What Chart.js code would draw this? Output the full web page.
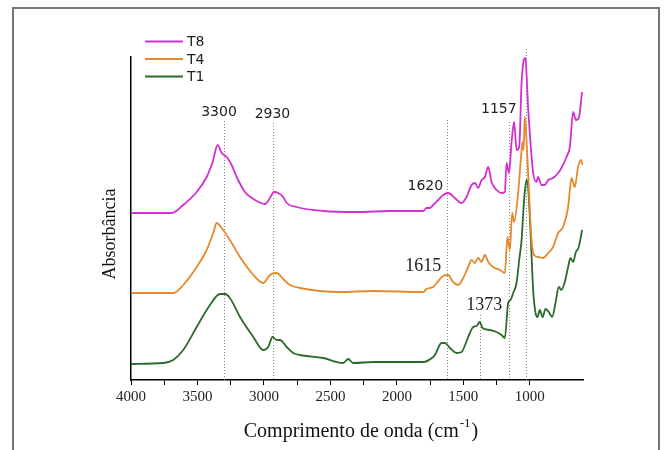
<!DOCTYPE html>
<html lang="pt">
<head>
    <meta charset="UTF-8">
    <title>FTIR T1 T4 T8</title>
    <script src="https://cdn.jsdelivr.net/npm/chart.js"></script>
    <style>
        body { margin: 0; background: #fff; }
        canvas { display: block; }
    </style>
</head>
<body>
    <canvas id="ftir" width="664" height="450"></canvas>

    <script>
        // Espectros FTIR (numero de onda em cm-1, absorbancia em unidades arbitrarias)
        const t8Wave = [4000, 3757, 3694, 3607, 3506, 3431, 3386, 3348, 3318, 3280, 3243, 3205, 3143, 3068, 2992, 2955, 2925, 2892, 2855, 2829, 2754, 2554, 2303, 2053, 1802, 1777, 1752, 1727, 1689, 1652, 1614, 1564, 1513, 1476, 1438, 1413, 1389, 1363, 1338, 1313, 1288, 1250, 1213, 1188, 1175, 1156, 1138, 1118, 1100, 1080, 1062, 1045, 1032, 1025, 1013, 1000, 975, 950, 938, 912, 887, 862, 825, 787, 762, 724, 699, 674, 654, 632, 607];
        const t8Abs = [1.67, 1.67, 1.67, 1.75, 1.88, 2.03, 2.18, 2.35, 2.27, 2.23, 2.15, 2.03, 1.88, 1.80, 1.76, 1.82, 1.88, 1.87, 1.83, 1.77, 1.73, 1.69, 1.68, 1.69, 1.69, 1.72, 1.72, 1.75, 1.80, 1.85, 1.87, 1.82, 1.77, 1.83, 1.95, 1.97, 1.92, 2.00, 2.03, 2.13, 1.98, 1.90, 1.87, 1.88, 2.17, 2.07, 2.37, 2.58, 2.30, 2.33, 2.97, 3.20, 3.22, 3.07, 2.73, 2.47, 2.07, 1.98, 2.03, 1.95, 1.95, 2.00, 2.02, 2.07, 2.12, 2.23, 2.33, 2.68, 2.60, 2.62, 2.88];

        const t4Wave = [4000, 3757, 3682, 3607, 3506, 3431, 3381, 3356, 3318, 3256, 3180, 3092, 3005, 2955, 2904, 2855, 2804, 2729, 2429, 2178, 1802, 1777, 1727, 1701, 1652, 1614, 1577, 1539, 1501, 1464, 1438, 1413, 1389, 1363, 1338, 1313, 1276, 1225, 1188, 1168, 1150, 1133, 1118, 1088, 1062, 1055, 1047, 1038, 1025, 1007, 987, 968, 938, 900, 862, 825, 787, 750, 712, 686, 662, 637, 616, 604];
        const t4Abs = [0.87, 0.87, 0.87, 0.95, 1.13, 1.30, 1.47, 1.57, 1.52, 1.40, 1.23, 1.07, 0.97, 1.05, 1.07, 1.01, 0.95, 0.92, 0.88, 0.89, 0.88, 0.91, 0.93, 0.97, 1.04, 1.05, 0.98, 0.95, 1.02, 1.13, 1.20, 1.17, 1.22, 1.18, 1.25, 1.18, 1.13, 1.10, 1.07, 1.43, 1.30, 1.67, 1.58, 1.87, 2.30, 2.38, 2.30, 2.63, 2.40, 1.90, 1.40, 1.25, 1.23, 1.22, 1.27, 1.33, 1.47, 1.53, 1.73, 2.02, 1.93, 2.13, 2.20, 2.15];

        const t1Wave = [4000, 3757, 3682, 3607, 3506, 3406, 3331, 3293, 3256, 3180, 3080, 3005, 2968, 2935, 2904, 2880, 2829, 2780, 2729, 2554, 2404, 2366, 2329, 2178, 1927, 1802, 1727, 1714, 1664, 1639, 1601, 1551, 1513, 1481, 1451, 1426, 1401, 1376, 1356, 1301, 1250, 1213, 1188, 1163, 1145, 1125, 1100, 1080, 1062, 1043, 1025, 1013, 992, 975, 957, 942, 925, 904, 882, 857, 832, 807, 782, 762, 737, 712, 694, 674, 656, 632, 607];
        const t1Abs = [0.16, 0.17, 0.20, 0.30, 0.53, 0.75, 0.86, 0.86, 0.82, 0.63, 0.43, 0.30, 0.33, 0.43, 0.40, 0.40, 0.33, 0.27, 0.25, 0.22, 0.17, 0.21, 0.17, 0.18, 0.18, 0.18, 0.23, 0.25, 0.37, 0.37, 0.32, 0.27, 0.28, 0.37, 0.47, 0.53, 0.54, 0.58, 0.52, 0.50, 0.48, 0.45, 0.42, 0.77, 0.80, 0.87, 0.97, 1.20, 1.40, 1.80, 2.00, 1.93, 1.40, 0.90, 0.67, 0.63, 0.70, 0.63, 0.71, 0.68, 0.63, 0.77, 0.93, 0.90, 0.98, 1.13, 1.22, 1.18, 1.27, 1.33, 1.50];

        const seriesNames = ["T8", "T4", "T1"];
        const xTickLabels = [4000, 3500, 3000, 2500, 2000, 1500, 1000];

        // bandas marcadas: numero de onda da linha pontilhada e ate onde ela sobe
        const bandWave = [3300, 2930, 1620, 1373, 1157, 1030];
        const bandTop = [2.59, 2.57, 2.60, 0.65, 2.58, 3.31];
        const bandText = ["3300", "2930", "1620", "1615", "1373", "1157"];

        const colors = ["#d22ed2", "#e6892c", "#2b6a2b"];

        function toPoints(wave, abs) {
            return wave.map((w, i) => ({ x: w, y: abs[i] }));
        }

        // onde cada rotulo de banda fica (numero de onda, absorbancia) e a fonte
        const bandLabels = [
            { text: bandText[0], x: 3338, y: 2.68, font: "14px 'DejaVu Sans'" },
            { text: bandText[1], x: 2936, y: 2.66, font: "14px 'DejaVu Sans'" },
            { text: bandText[2], x: 1786, y: 1.94, font: "14px 'DejaVu Sans'" },
            { text: bandText[3], x: 1801, y: 1.14, font: "18px 'Liberation Serif'" },
            { text: bandText[4], x: 1342, y: 0.75, font: "18px 'Liberation Serif'" },
            { text: bandText[5], x: 1233, y: 2.71, font: "14px 'DejaVu Sans'" }
        ];

        const decor = {
            id: "decor",
            beforeDatasetsDraw(chart) {
                const { ctx, scales: { x, y } } = chart;
                ctx.save();
                ctx.strokeStyle = "#8c8c8c";
                ctx.lineWidth = 1;
                ctx.setLineDash([1, 2]);
                bandWave.forEach((w, i) => {
                    const px = Math.round(x.getPixelForValue(w)) + 0.5;
                    ctx.beginPath();
                    ctx.moveTo(px, y.getPixelForValue(bandTop[i]));
                    ctx.lineTo(px, y.bottom);
                    ctx.stroke();
                });
                ctx.restore();
            },
            afterDraw(chart) {
                const { ctx, scales: { x, y } } = chart;
                ctx.save();

                // moldura
                ctx.strokeStyle = "#777";
                ctx.lineWidth = 2;
                ctx.strokeRect(13, 8, 646, 470);

                // rotulos das bandas
                ctx.fillStyle = "#222";
                ctx.textAlign = "center";
                ctx.textBaseline = "middle";
                bandLabels.forEach(l => {
                    ctx.font = l.font;
                    ctx.fillText(l.text, x.getPixelForValue(l.x), y.getPixelForValue(l.y));
                });

                // legenda
                ctx.font = "14px 'DejaVu Sans'";
                ctx.textAlign = "left";
                const rows = [41.5, 59, 76.5];
                seriesNames.forEach((name, i) => {
                    ctx.strokeStyle = colors[i];
                    ctx.lineWidth = 2;
                    ctx.beginPath();
                    ctx.moveTo(145, rows[i]);
                    ctx.lineTo(183, rows[i]);
                    ctx.stroke();
                    ctx.fillStyle = "#222";
                    ctx.fillText(name, 187, rows[i] + 1);
                });

                // titulo do eixo y
                ctx.fillStyle = "#111";
                ctx.font = "18px 'Liberation Serif'";
                ctx.textAlign = "center";
                ctx.save();
                ctx.translate(110, 234);
                ctx.rotate(-Math.PI / 2);
                ctx.fillText("Absorbância", 0, 0);
                ctx.restore();

                // titulo do eixo x com expoente
                ctx.textAlign = "left";
                ctx.textBaseline = "alphabetic";
                const main = "Comprimento de onda (cm";
                const sup = "-1";
                ctx.font = "20px 'Liberation Serif'";
                const wMain = ctx.measureText(main).width;
                const wClose = ctx.measureText(")").width;
                ctx.font = "13px 'Liberation Serif'";
                const wSup = ctx.measureText(sup).width;
                let left = 361 - (wMain + wSup + wClose + 2) / 2;
                ctx.font = "20px 'Liberation Serif'";
                ctx.fillText(main, left, 437);
                ctx.font = "13px 'Liberation Serif'";
                ctx.fillText(sup, left + wMain + 1, 427);
                ctx.font = "20px 'Liberation Serif'";
                ctx.fillText(")", left + wMain + wSup + 2, 437);

                ctx.restore();
            }
        };

        new Chart(document.getElementById("ftir"), {
            type: "line",
            data: {
                datasets: [
                    { label: seriesNames[0], data: toPoints(t8Wave, t8Abs), borderColor: colors[0] },
                    { label: seriesNames[1], data: toPoints(t4Wave, t4Abs), borderColor: colors[1] },
                    { label: seriesNames[2], data: toPoints(t1Wave, t1Abs), borderColor: colors[2] }
                ]
            },
            options: {
                responsive: false,
                animation: false,
                layout: { padding: { left: 0, top: 57, right: 81, bottom: 0 } },
                elements: {
                    point: { radius: 0 },
                    line: { borderWidth: 1.8, cubicInterpolationMode: "monotone" }
                },
                plugins: {
                    legend: { display: false },
                    tooltip: { enabled: false }
                },
                scales: {
                    x: {
                        type: "linear",
                        reverse: true,
                        min: 600,
                        max: 4000,
                        afterFit: s => { s.height = 70; },
                        afterBuildTicks: s => {
                            s.ticks = s.ticks.filter(t => t.value % 250 === 0);
                        },
                        ticks: {
                            stepSize: 250,
                            autoSkip: false,
                            maxRotation: 0,
                            padding: 3,
                            color: "#222",
                            font: { family: "Liberation Serif", size: 15 },
                            callback: v => xTickLabels.includes(v) ? String(v) : ""
                        },
                        grid: {
                            drawOnChartArea: false,
                            tickLength: 5,
                            tickColor: "#000",
                            tickWidth: 1
                        },
                        border: { color: "#000", width: 1.5 }
                    },
                    y: {
                        min: 0,
                        max: 3.23,
                        afterFit: s => { s.width = 131; },
                        ticks: { display: false },
                        grid: { display: false },
                        border: { display: true, color: "#000", width: 1.5 }
                    }
                }
            },
            plugins: [decor]
        });
    </script>
</body>
</html>
